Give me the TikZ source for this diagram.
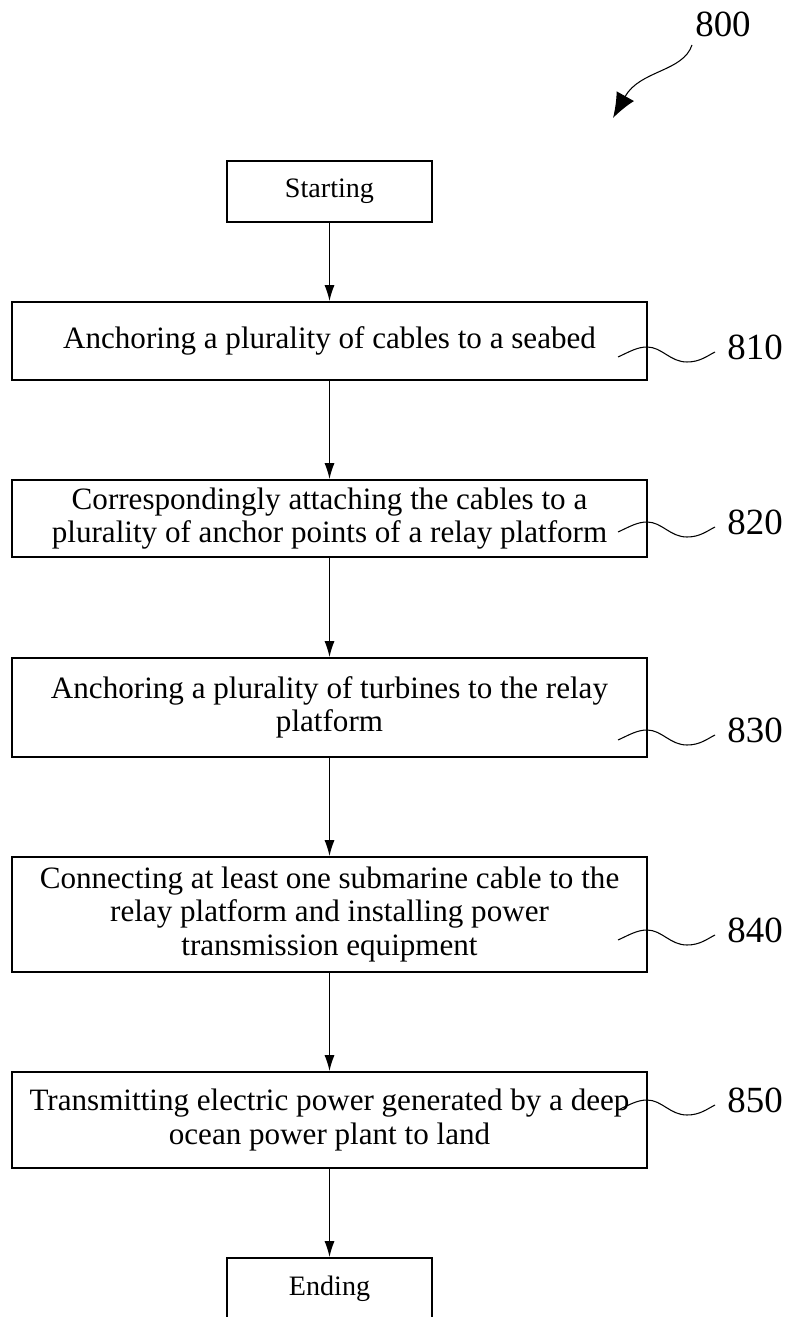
\documentclass[tikz,border=0pt]{standalone}
\usepackage{fontspec}
\setmainfont{Liberation Serif}
\usetikzlibrary{arrows.meta}
\usetikzlibrary{calc}

\begin{document}
\begin{tikzpicture}[x=0.02cm, y=-0.02cm,
    stepbox/.style={draw, line width=0.9pt, minimum width=12.7cm, align=center,
      inner sep=0pt, font=\fontsize{17.7}{18.8}\selectfont},
    termbox/.style={draw, line width=0.9pt, minimum width=4.1cm, minimum height=1.22cm,
      inner sep=0pt, font=\fontsize{16}{17.5}\selectfont},
    flow/.style={-{Latex[length=0.32cm,width=0.2cm]}, line width=0.8pt},
    refnum/.style={anchor=west, inner sep=0pt, font=\fontsize{21}{24}\selectfont}]
  \useasboundingbox (0,0) rectangle (789,1317);

  % Start and end boxes
  \node[termbox] (start) at (329.5,191.5) {Starting};
  \node[termbox] (ending) at (329.5,1288.5) {Ending};

  % Steps
  \node[stepbox, minimum height=1.56cm] (s810) at (329.5,341) {Anchoring a plurality of cables to a seabed};
  \node[stepbox, minimum height=1.54cm] (s820) at (329.5,518.5) {Correspondingly attaching the cables to a\\plurality of anchor points of a relay platform};
  \node[stepbox, minimum height=1.98cm] (s830) at (329.5,707.5) {Anchoring a plurality of turbines to the relay\\platform};
  \node[stepbox, minimum height=2.3cm] (s840) at (329.5,914.5) {Connecting at least one submarine cable to the\\relay platform and installing power\\transmission equipment};
  \node[stepbox, minimum height=1.92cm] (s850) at (329.5,1120) {Transmitting electric power generated by a deep\\ocean power plant to land};

  \draw[flow] (start) -- (s810);
  \draw[flow] (s810) -- (s820);
  \draw[flow] (s820) -- (s830);
  \draw[flow] (s830) -- (s840);
  \draw[flow] (s840) -- (s850);
  \draw[flow] (s850) -- (ending);

  % Reference numerals with wavy leaders
  \foreach \n/\y in {810/347, 820/522, 830/730, 840/930, 850/1100} {
    \coordinate (c\n) at (647,\y);
    \node[refnum] (l\n) at (727,\y) {\n};
    \coordinate (e\n) at ($(l\n.west)+(-12,5)$);
    \draw[line width=0.6pt] ($(c\n)+(-29,10)$) .. controls ($(c\n)+(-18,5)$) and ($(c\n)+(-10,0)$) .. (c\n)
      .. controls ($(c\n)+(15,0)$) and ($(c\n)+(23,15)$) .. ($(c\n)+(40,15)$)
      .. controls ($(c\n)+(53,15)$) and ($(c\n)+(60,9)$) .. (e\n);
  }

  % Figure number
  \node[font=\fontsize{21}{24}\selectfont, inner sep=0pt] (n800) at (723,24) {800};
  \coordinate (a800) at (692,45);
  \coordinate (t800) at (613,118);
  \draw[line width=0.6pt, -{Latex[length=0.5cm,width=0.4cm]}] (a800) .. controls (683,72) and (640,70) .. (t800);
\end{tikzpicture}
\end{document}
